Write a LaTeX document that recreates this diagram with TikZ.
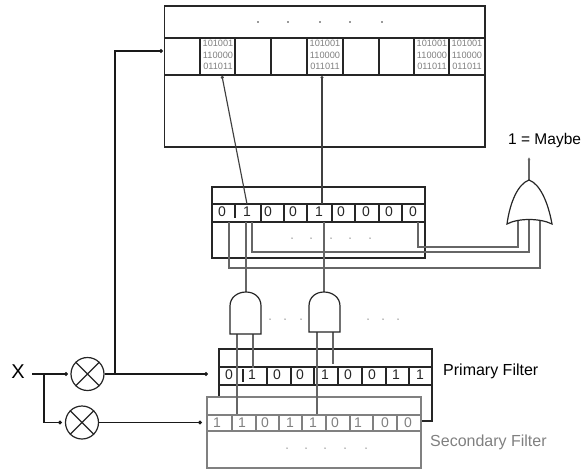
\documentclass[tikz,border=0pt]{standalone}
\usepackage{fontspec}
\setmainfont{Liberation Sans}
\usetikzlibrary{arrows.meta}
\definecolor{sec}{gray}{0.5}
\definecolor{wire}{gray}{0.4}
\tikzset{
  frame/.style={draw=black!85,line width=1.3pt},
  secframe/.style={draw=sec,line width=1.3pt},
  wireg/.style={draw=wire,line width=1.25pt},
  wirek/.style={draw=black!75,line width=1.15pt},
  sig/.style={draw=black!90,line width=1.15pt,-{Circle[length=4pt]}},
  plain/.style={draw=black!85,line width=1.1pt},
  gate/.style={draw=black!85,line width=1.2pt,fill=white},
  bit/.style={font=\fontsize{14}{14}\selectfont,inner sep=0pt,text=black!85},
  secbit/.style={font=\fontsize{14}{14}\selectfont,inner sep=0pt,text=sec},
  memo/.style={font=\fontsize{9.2}{11.3}\selectfont,inner sep=0pt,align=center,text=black!50},
  dotd/.style={circle,fill=black!80,inner sep=0pt,minimum size=1.6pt},
  sdotd/.style={circle,fill=black!50,inner sep=0pt,minimum size=1.5pt},
  lbl/.style={font=\fontsize{16}{17}\selectfont,inner sep=0pt,anchor=west},
  mixer/.style={circle,draw=black!85,line width=1.2pt,fill=white,inner sep=0pt}
}
\newcommand{\memtext}{101001\\110000\\011011}
\begin{document}
\begin{tikzpicture}[x=1pt,y=-1pt]
\useasboundingbox (0,0) rectangle (584,469);
% memory
\draw[frame] (164.5,6) rectangle (485,147);
\draw[frame] (164.5,38) -- (485,38) (164.5,75) -- (485,75);
\foreach \x in {200,235,271,307,343,379,414,449} \draw[frame] (\x,38) -- (\x,75);
\foreach \x/\n in {218/ma,325/mb,432/mc,467/md} \node[memo] (\n) at (\x,55) {\memtext};
\foreach \x/\n in {258/a,288/b,320/c,350/d,382/e} \node[dotd] (t\n) at (\x,22) {};
\coordinate (memA) at (222,76);
\coordinate (memB) at (322,76);
\coordinate (memIn) at (163,51);
% middle filter
\draw[frame] (212,187) rectangle (425,258);
\draw[frame] (212,204) -- (425,204) (212,222) -- (425,222);
\draw[frame] (235,205) -- (235,218);
\foreach \x in {261,284,307,332,355,379,402} \draw[frame] (\x,204) -- (\x,222);
\foreach \x/\b/\n in {222/0/a,247/1/b,268/0/c,293/0/d,319/1/e,341/0/f,366/0/g,389/0/h,413/0/i}
  \node[bit] (mid\n) at (\x,212) {\b};
\foreach \x/\n in {292/a,311/b,331/c,350/d,370/e} \node[sdotd] (md\n) at (\x,238) {};
\coordinate (midA) at (247,204);
\coordinate (midB) at (322,204);
% memory read lines
\draw[wirek,{Circle[length=3pt]}-] (memA) -- (midA);
\draw[wirek,{Circle[length=3pt]}-] (memB) -- (midB);
% OR gate
\coordinate (orTop) at (529,180);
\coordinate (orOut) at (529,157);
\coordinate (orI1) at (518,221);
\coordinate (orI2) at (529,220);
\coordinate (orI3) at (540,221);
\coordinate (w1) at (418,222);
\coordinate (w2) at (252,222);
\coordinate (w3) at (229,222);
\draw[wireg,{Latex[length=3pt,width=3pt]}-] (orOut) -- (orTop);
\draw[wireg] (orI1) |- (w1 |- 0,247) -- (w1);
\draw[wireg] (orI2) |- (w2 |- 0,252) -- (w2);
\draw[wireg] (orI3) |- (w3 |- 0,268) -- (w3);
\draw[gate] (orTop) .. controls (518,184) and (510,202) .. (507,224)
  .. controls (518,218) and (540,218) .. (552,224)
  .. controls (548,202) and (540,184) .. (orTop) -- cycle;
\node[lbl,font=\fontsize{15.5}{17}\selectfont] (maybe) at (508,140) {1 = Maybe};
% Primary filter
\draw[frame] (219,397) -- (219,349) -- (432,349) -- (432,421) -- (421,421);
\draw[frame] (219,367) -- (432,367) (219,385) -- (432,385);
\draw[frame] (243,369) -- (243,382);
\foreach \x in {267,291,314,338,362,386,409} \draw[frame] (\x,367) -- (\x,385);
\foreach \x/\b/\n in {229/0/a,252/1/b,277/0/c,300/0/d,325/1/e,348/0/f,372/0/g,396/1/h,420/1/i}
  \node[bit] (pri\n) at (\x,375) {\b};
% Secondary filter
\draw[secframe] (207,397) rectangle (421,468);
\draw[secframe] (207,415) -- (421,415) (207,431) -- (421,431);
\foreach \x in {232,256,279,302,326,350,373,397} \draw[secframe] (\x,415) -- (\x,431);
\foreach \x/\b/\n in {217/1/a,242/1/b,265/0/c,290/1/d,313/1/e,335/0/f,358/1/g,385/0/h,408/0/i}
  \node[secbit] (sec\n) at (\x,423) {\b};
\foreach \x/\n in {287/a,306/b,325/c,345/d,366/e} \node[sdotd] (sd\n) at (\x,448) {};
\node[lbl] (plab) at (443,371.5) {Primary Filter};
\node[lbl,text=sec] (slab) at (430,442) {Secondary Filter};
% AND gates
\coordinate (g1o) at (246,292);
\coordinate (g2o) at (324,292);
\coordinate (g1t) at (246,222);
\coordinate (g2t) at (324,222);
\draw[wireg] (g1o) -- (g1t);
\draw[wireg] (g2o) -- (g2t);
\coordinate (g1a) at (237,334); \coordinate (g1b) at (253,334);
\coordinate (g2a) at (317,332); \coordinate (g2b) at (333,332);
\draw[wireg] (g1a) -- (237,414);
\draw[wireg] (g1b) -- (253,368);
\draw[wireg] (g2a) -- (317,414);
\draw[wireg] (g2b) -- (333,364);
\draw[gate] (230,334) -- (230,306) .. controls (230,297) and (238,292) .. (g1o)
  .. controls (254,292) and (261,297) .. (261,306) -- (261,334) -- cycle;
\draw[gate] (309,332) -- (309,306) .. controls (309,297) and (316,292) .. (g2o)
  .. controls (332,292) and (340,297) .. (340,306) -- (340,332) -- cycle;
\foreach \x/\n in {270/a,285/b,301/c,368/d,383/e,398/f} \node[sdotd] (ad\n) at (\x,319) {};
% input side
\node[font=\fontsize{20}{20}\selectfont,inner sep=0pt] (X) at (18,372) {X};
\node[mixer,minimum size=33pt] (m1) at (87.5,374) {};
\node[mixer,minimum size=33pt] (m2) at (82,422.5) {};
\draw[plain] (m1.45) -- (m1.225) (m1.135) -- (m1.315);
\draw[plain] (m2.45) -- (m2.225) (m2.135) -- (m2.315);
\coordinate (xs) at (32,374);
\coordinate (br) at (44,374);
\coordinate (br2) at (115,374);
\coordinate (p1) at (208,374);
\coordinate (p2) at (202,422.5);
\coordinate (m1in) at (68,374);
\coordinate (m2in) at (62,422.5);
\draw[sig] (xs) -- (m1in);
\draw[sig] (br) |- (m2in);
\draw[sig] (m1.east) -- (p1);
\draw[sig] (m2.east) -- (p2);
\draw[sig] (br2) |- (memIn);
\end{tikzpicture}
\end{document}
